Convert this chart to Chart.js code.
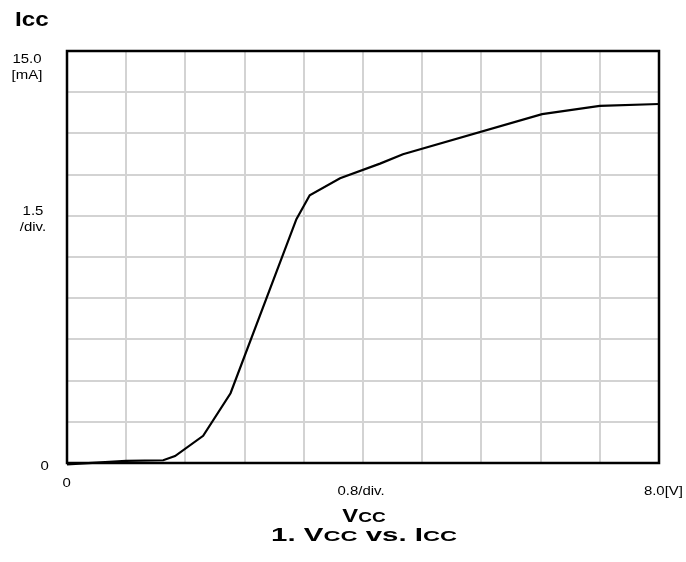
<!DOCTYPE html>
<html>
<head>
<meta charset="utf-8">
<script src="https://cdn.jsdelivr.net/npm/chart.js@4"></script>
<style>
  html, body { margin: 0; padding: 0; background: #fff; }
  #wrap { position: relative; width: 686px; height: 562px; font-family: "Liberation Sans", Arial, sans-serif; color: #000; }
  canvas { position: absolute; left: 0; top: 0; }
  .lbl { position: absolute; font-size: 13px; line-height: 16px; white-space: nowrap; transform: scaleX(1.15); }
  .b { font-weight: bold; }
  .sc { font-size: 0.8em; }
</style>
</head>
<body>
<div id="wrap">
  <canvas id="c" width="686" height="562"></canvas>
  <div class="lbl b" style="left:15px;top:6px;font-size:21px;line-height:26px;transform-origin:left center;">Icc</div>
  <div class="lbl" id="yTop" style="left:0;width:54px;text-align:center;top:51px;"></div>
  <div class="lbl" id="yMid" style="left:0;width:66px;text-align:center;top:203px;"></div>
  <div class="lbl" id="yZero" style="left:41px;top:458px;"></div>
  <div class="lbl" id="xZero" style="left:63px;top:475px;"></div>
  <div class="lbl" id="xMid" style="left:261px;width:200px;text-align:center;top:483px;"></div>
  <div class="lbl" id="xMax" style="right:3px;top:483px;transform-origin:right center;"></div>
  <div class="lbl b" style="left:164px;width:400px;text-align:center;top:505px;font-size:19px;line-height:22px;transform:scaleX(1.25);">V<span class="sc">CC</span></div>
  <div class="lbl b" style="left:164px;width:400px;text-align:center;top:524px;font-size:19px;line-height:22px;transform:scaleX(1.55);">1. V<span class="sc">CC</span> vs. I<span class="sc">CC</span></div>
</div>
<script>
// Data (Vcc in V, Icc in mA)
const vcc = [0, 0.80, 1.30, 1.46, 1.84, 2.21, 3.10, 3.28, 3.69, 4.23, 4.54, 6.42, 7.20, 8.00];
const icc = [-0.05, 0.08, 0.10, 0.25, 0.99, 2.54, 8.88, 9.75, 10.37, 10.90, 11.24, 12.70, 13.00, 13.07];

// Axis settings and tick labels
const xMin = 0, xMax = 8.0, xStep = 0.8;
const yMin = 0, yMax = 15.0, yStep = 1.5;
const yTickTop = ["15.0", "[mA]"];
const yTickMid = ["1.5", "/div."];
const yTickZero = "0";
const xTickZero = "0";
const xTickMid = "0.8/div.";
const xTickMax = "8.0[V]";

document.getElementById('yTop').innerHTML = yTickTop.join('<br>');
document.getElementById('yMid').innerHTML = yTickMid.join('<br>');
document.getElementById('yZero').textContent = yTickZero;
document.getElementById('xZero').textContent = xTickZero;
document.getElementById('xMid').textContent = xTickMid;
document.getElementById('xMax').textContent = xTickMax;

const points = vcc.map((v, i) => ({ x: v, y: icc[i] }));

const frame = {
  id: 'frame',
  afterDraw(chart) {
    const a = chart.chartArea, ctx = chart.ctx;
    ctx.save();
    ctx.strokeStyle = '#000';
    ctx.lineWidth = 2.5;
    ctx.strokeRect(a.left, a.top, a.right - a.left, a.bottom - a.top);
    ctx.restore();
  }
};

new Chart(document.getElementById('c'), {
  type: 'scatter',
  data: {
    datasets: [{
      data: points,
      showLine: true,
      borderColor: '#000',
      borderWidth: 2.2,
      pointRadius: 0,
      tension: 0,
      clip: false
    }]
  },
  options: {
    responsive: false,
    animation: false,
    events: [],
    layout: { padding: { left: 67, top: 51, right: 27, bottom: 99 } },
    plugins: { legend: { display: false }, tooltip: { enabled: false } },
    scales: {
      x: {
        type: 'linear', min: xMin, max: xMax,
        ticks: { display: false, stepSize: xStep },
        grid: { color: '#d3d3d3', lineWidth: 2, drawTicks: false },
        border: { display: false }
      },
      y: {
        type: 'linear', min: yMin, max: yMax,
        ticks: { display: false, stepSize: yStep },
        grid: { color: '#d3d3d3', lineWidth: 2, drawTicks: false },
        border: { display: false }
      }
    }
  },
  plugins: [frame]
});
</script>
</body>
</html>
